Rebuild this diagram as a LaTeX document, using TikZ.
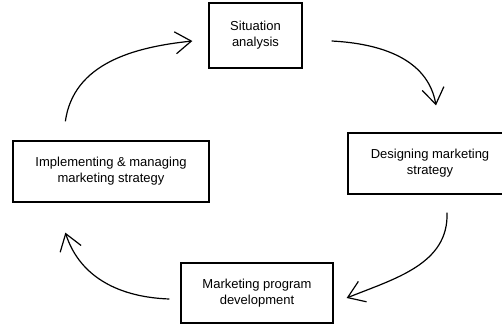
\documentclass[tikz,border=0pt]{standalone}
\usepackage{fontspec}
\setmainfont{Liberation Sans}
\usetikzlibrary{arrows.meta}
\begin{document}
\begin{tikzpicture}[x=1pt,y=-1pt,
    stagebox/.style={draw,line width=1.3pt,align=center,inner sep=0pt,
      font=\fontsize{13}{16}\selectfont},
    cycarrow/.style={line width=1.2pt,-{Straight Barb[length=16pt,width=22pt,line width=1.2pt]}}]
    \useasboundingbox (0,0) rectangle (502,324);
    \clip (0,0) rectangle (502,324);
    % Kaesten
    \node[stagebox,minimum width=93pt,minimum height=65pt] (sit) at (255.5,35.5) {Situation\\analysis};
    \node[stagebox,minimum width=164pt,minimum height=61pt] (des) at (430,163.5) {Designing marketing\\strategy};
    \node[stagebox,minimum width=152pt,minimum height=60pt] (mpd) at (257,293) {Marketing program\\development};
    \node[stagebox,minimum width=196pt,minimum height=61pt] (imp) at (111,171.5) {Implementing \& managing\\marketing strategy};

    % Pfeile
    \draw[cycarrow] ([xshift=53pt,yshift=19pt]imp.north west) to[out=82,in=186] ([xshift=-16pt,yshift=-5.5pt]sit.west);
    \draw[cycarrow] ([xshift=29pt,yshift=-5.5pt]sit.east) to[out=-3,in=100] ([xshift=6pt,yshift=27pt]des.north);
    \draw[cycarrow] ([xshift=17pt,yshift=-18pt]des.south) to[out=-88,in=22] ([xshift=13pt,yshift=-5pt]mpd.east);
    \draw[cycarrow] ([xshift=-11pt,yshift=-6pt]mpd.west) to[out=178,in=-72] ([xshift=53pt,yshift=-30pt]imp.south west);
\end{tikzpicture}
\end{document}
